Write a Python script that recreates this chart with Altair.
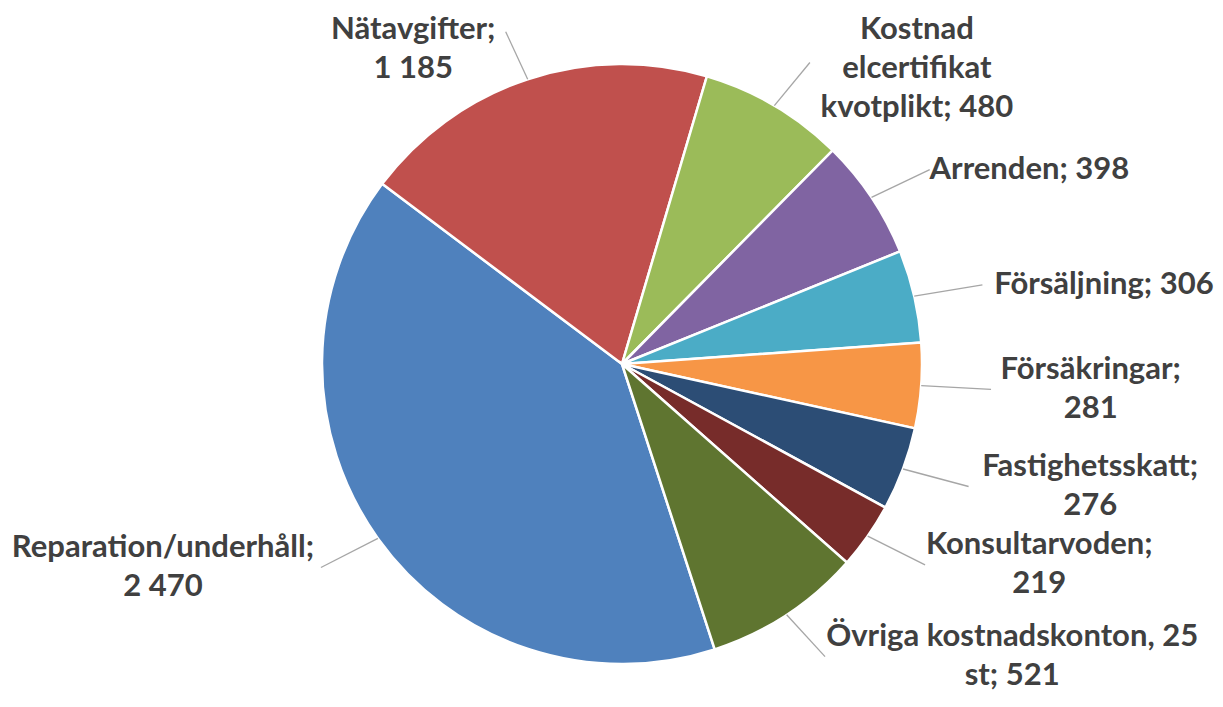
import math
import altair as alt
import pandas as pd

# ---- data (Excel data order; first slice starts at 162 degrees) ----
categories = ["Reparation/underhåll", "Nätavgifter", "Kostnad elcertifikat kvotplikt",
              "Arrenden", "Försäljning", "Försäkringar", "Fastighetsskatt",
              "Konsultarvoden", "Övriga kostnadskonton, 25 st"]
values = [2470, 1185, 480, 398, 306, 281, 276, 219, 521]
label_text = ["Reparation/underhåll;\n", "Nätavgifter;\n", "Kostnad\nelcertifikat\nkvotplikt; ",
              "Arrenden; ", "Försäljning; ", "Försäkringar;\n", "Fastighetsskatt;\n",
              "Konsultarvoden;\n", "Övriga kostnadskonton, 25\nst; "]
colors = ["#4F81BD", "#C0504D", "#9BBB59", "#8064A2", "#4BACC6",
          "#F79646", "#2C4D75", "#772C2A", "#5F7530"]

# ---- layout constants ----
W, H = 1207, 691
CX, CY = 614, 356
R = 300
RX_LABEL, RY_LABEL = 370, 350
START_DEG = 162
FS = 31
LH = 39
CHAR_W = 0.47 * FS   # rough average glyph width, used to centre wrapped lines
FONT = "Lato"
TXT = "#404040"

labels = [t + f"{v:,}".replace(",", " ") for t, v in zip(label_text, values)]
df = pd.DataFrame({
    "cat": categories,
    "value": values,
    "label": labels,
    "idx": list(range(len(values))),
    "nl": [l.count("\n") + 1 for l in labels],
    "maxc": [max(len(s) for s in l.split("\n")) for l in labels],
})

start = math.radians(START_DEG)
base = alt.Chart(df)

pie = base.mark_arc(outerRadius=R, stroke="white", strokeWidth=2.5).encode(
    theta=alt.Theta("value:Q", stack=True,
                    scale=alt.Scale(range=[start, start + 2 * math.pi])),
    color=alt.Color("cat:N", scale=alt.Scale(domain=categories, range=colors), legend=None),
    order=alt.Order("idx:Q"),
    x=alt.value(CX),
    y=alt.value(CY),
)

geo = base.transform_joinaggregate(
    total="sum(value)"
).transform_window(
    cum="sum(value)", sort=[alt.SortField("idx")]
).transform_calculate(
    a=f"{start} + 2*PI*(datum.cum - datum.value/2)/datum.total"
).transform_calculate(
    sx=f"{CX} + {R}*sin(datum.a)",
    sy=f"{CY} - {R}*cos(datum.a)",
    ex=f"{CX} + {RX_LABEL}*sin(datum.a)",
    ey=f"{CY} - {RY_LABEL}*cos(datum.a)",
    side="sin(datum.a) >= 0 ? 1 : -1",
).transform_calculate(
    tx=f"datum.ex + datum.side*(5 + datum.maxc*{CHAR_W}/2)",
    tyc=f"min(max(datum.ey, datum.nl*{LH}/2 + 2), {H} - datum.nl*{LH}/2 + 2)",
).transform_calculate(
    ty=f"datum.tyc - (datum.nl - 1)*{LH}/2",
)

lines = geo.mark_rule(color="#A6A6A6", strokeWidth=1.3).encode(
    x=alt.X("sx:Q", scale=None, axis=None),
    y=alt.Y("sy:Q", scale=None, axis=None),
    x2="ex:Q",
    y2="ey:Q",
)

text = geo.mark_text(font=FONT, fontSize=FS, fontWeight="bold", color=TXT,
                     lineBreak="\n", lineHeight=LH, baseline="middle",
                     align="center").encode(
    x=alt.X("tx:Q", scale=None, axis=None),
    y=alt.Y("ty:Q", scale=None, axis=None),
    text="label:N",
)

chart = alt.layer(pie, lines, text).properties(
    width=W, height=H, autosize="none", padding=0
).configure_view(strokeWidth=0)

chart.save("out.html", embed_options={"renderer": "svg", "actions": False})
